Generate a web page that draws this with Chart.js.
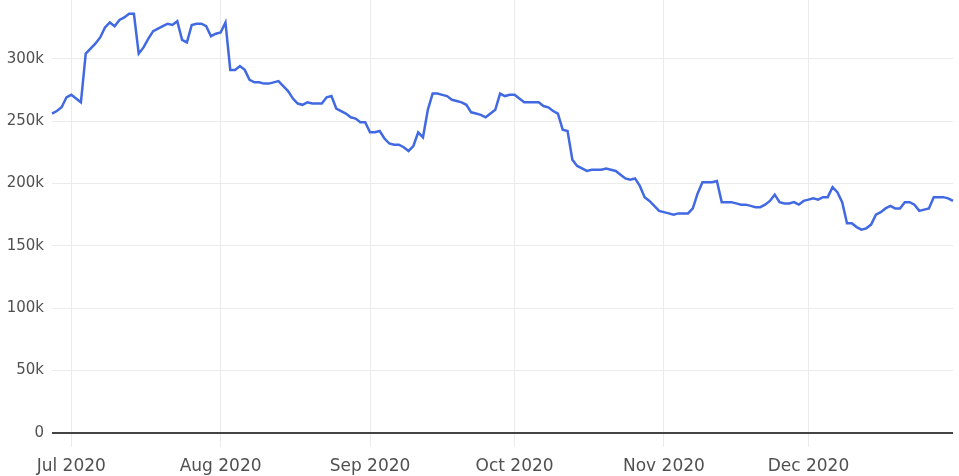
<!DOCTYPE html>
<html>
<head>
<meta charset="utf-8">
<script src="https://cdn.jsdelivr.net/npm/chart.js@4/dist/chart.umd.min.js"></script>
<style>
  html, body { margin: 0; padding: 0; background: #fff; }
  #chart { display: block; }
</style>
</head>
<body>
<canvas id="chart" width="959" height="476"></canvas>
<script>
// ======== Data (values in thousands, one per day from 27 Jun 2020) ========
const junValues = [256, 258, 261, 269];
const julValues = [271, 268, 265, 304, 308, 312, 317, 325, 329, 326, 331, 333, 336, 336, 304, 309,
                   316, 322, 324, 326, 328, 327, 330, 315, 313, 327, 328, 328, 326, 318, 320];
const augValues = [321, 329, 291, 291, 294, 291, 283, 281, 281, 280, 280, 281, 282, 278, 274, 268,
                   264, 263, 265, 264, 264, 264, 269, 270, 260, 258, 256, 253, 252, 249, 249];
const sepValues = [241, 241, 242, 236, 232, 231, 231, 229, 226, 230, 241, 237, 259, 272, 272, 271,
                   270, 267, 266, 265, 263, 257, 256, 255, 253, 256, 259, 272, 270, 271];
const octValues = [271, 268, 265, 265, 265, 265, 262, 261, 258, 256, 243, 242, 219, 214, 212, 210,
                   211, 211, 211, 212, 211, 210, 207, 204, 203, 204, 198, 189, 186, 182, 178];
const novValues = [177, 176, 175, 176, 176, 176, 180, 192, 201, 201, 201, 202, 185, 185, 185, 184,
                   183, 183, 182, 181, 181, 183, 186, 191, 185, 184, 184, 185, 183, 186];
const decValues = [187, 188, 187, 189, 189, 197, 193, 185, 168, 168, 165, 163, 164, 167, 175, 177,
                   180, 182, 180, 180, 185, 185, 183, 178, 179, 180, 189, 189, 189, 188, 186];

// x positions are days counted from 1 Jul 2020
const firstDay = -4;
const monthTickDays = [0, 31, 62, 92, 123, 153];
const monthTickLabels = ["Jul 2020", "Aug 2020", "Sep 2020", "Oct 2020", "Nov 2020", "Dec 2020"];
const yTicks = [0, 50000, 100000, 150000, 200000, 250000, 300000];

// ======== Build points ========
const allValues = [].concat(junValues, julValues, augValues, sepValues, octValues, novValues, decValues);
const points = allValues.map((v, i) => ({ x: firstDay + i, y: v * 1000 }));

// ======== Chart ========
const ctx = document.getElementById("chart").getContext("2d");
const chart = new Chart(ctx, {
    type: "line",
    data: {
        datasets: [{
            data: points,
            borderColor: "#4169e1",
            borderWidth: 2.5,
            pointRadius: 0,
            tension: 0,
            fill: false,
            clip: false,
        }]
    },
    options: {
        responsive: false,
        animation: false,
        devicePixelRatio: 1,
        layout: { padding: { left: 0, right: 6, top: 0, bottom: 0 } },
        plugins: { legend: { display: false }, tooltip: { enabled: false } },
        scales: {
            x: {
                type: "linear",
                min: firstDay,
                max: firstDay + allValues.length - 1,
                afterBuildTicks: (axis) => { axis.ticks = monthTickDays.map(v => ({ value: v })); },
                afterFit: (axis) => { axis.height = 43; axis.paddingLeft = 0; axis.paddingRight = 0; },
                border: { display: false },
                grid: { color: "#ebebeb", lineWidth: 1, drawTicks: true, tickLength: 14 },
                ticks: {
                    autoSkip: false,
                    maxRotation: 0,
                    padding: 9,
                    color: "#505050",
                    font: { family: "'DejaVu Sans', Verdana, sans-serif", size: 17 },
                    callback: (v) => monthTickLabels[monthTickDays.indexOf(v)] || "",
                }
            },
            y: {
                min: 0,
                max: 347000,
                afterBuildTicks: (axis) => { axis.ticks = yTicks.map(v => ({ value: v })); },
                afterFit: (axis) => { axis.width = 52; axis.paddingTop = 0; axis.paddingBottom = 0; },
                border: { display: false },
                grid: {
                    drawTicks: false,
                    color: (c) => c.tick && c.tick.value === 0 ? "#444" : "#ebebeb",
                    lineWidth: (c) => c.tick && c.tick.value === 0 ? 2 : 1,
                },
                ticks: {
                    padding: 8,
                    color: "#505050",
                    font: { family: "'DejaVu Sans', Verdana, sans-serif", size: 15 },
                    callback: (v) => v === 0 ? "0" : (v / 1000) + "k",
                }
            }
        }
    }
});
</script>
</body>
</html>
